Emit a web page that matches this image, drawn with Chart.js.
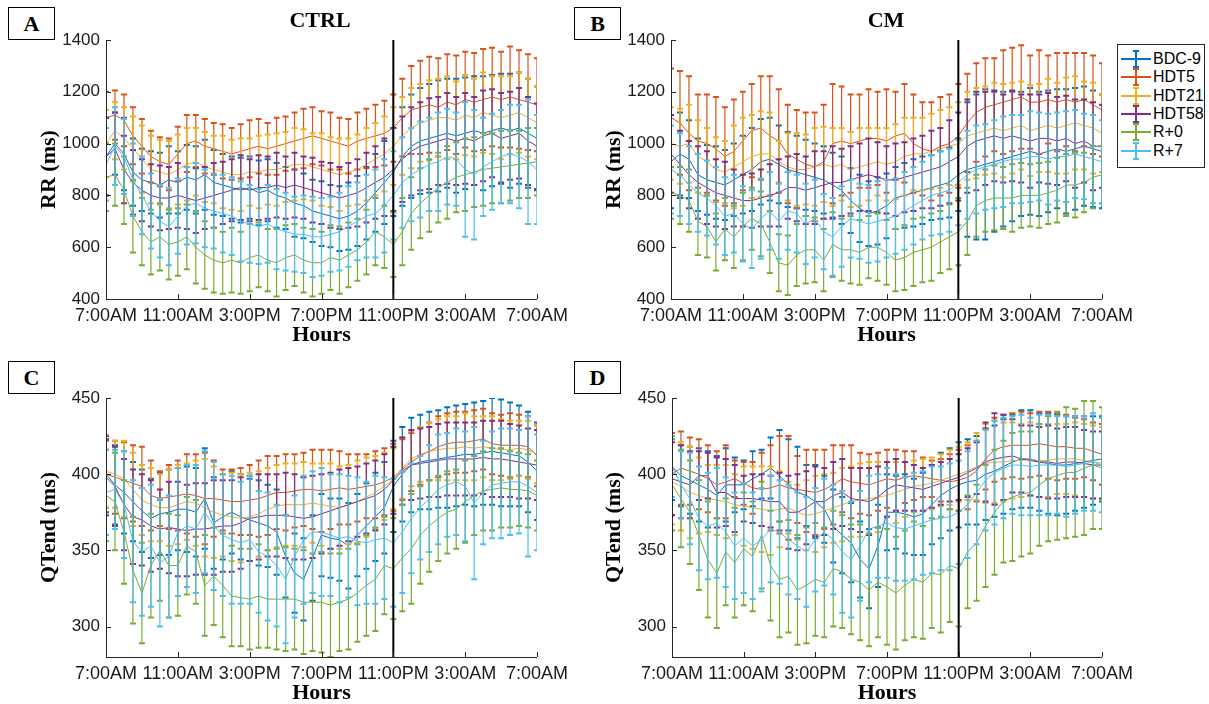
<!DOCTYPE html>
<html>
<head>
<meta charset="utf-8">
<script src="https://cdn.jsdelivr.net/npm/chart.js@4.4.1/dist/chart.umd.min.js"></script>
<style>
  body { margin: 0; width: 1209px; height: 704px; position: relative; overflow: hidden; background: #fff; font-family: "Liberation Sans", Arial, sans-serif; }
  canvas { position: absolute; }
  .tag { position: absolute; width: 45px; height: 31px; border: 1.5px solid #000; background: #fff; z-index: 2;
         font: bold 22px "Liberation Serif", serif; display: flex; align-items: center; justify-content: center; }
  .ttl { position: absolute; transform: translate(-50%, -50%); font: bold 22px "Liberation Serif", serif; z-index: 2; }
  #legend { position: absolute; left: 1117px; top: 44px; width: 86px; height: 122px; border: 1px solid #262626; background: #fff; z-index: 3; }
  .item { position: absolute; left: 0; height: 18px; width: 86px; }
  .item .h { position: absolute; left: 3px; top: 8px; width: 30px; height: 2px; }
  .item .v { position: absolute; left: 17px; top: 1px; width: 2px; height: 16px; }
  .item .c1, .item .c2 { position: absolute; left: 15px; width: 6px; height: 2px; }
  .item .c1 { top: 0; } .item .c2 { top: 16px; }
  .item span { position: absolute; left: 35px; top: 0; font-size: 16px; line-height: 18px; color: #000; }
</style>
</head>
<body>
<div class="tag" style="left:8px;top:7px">A</div>
<div class="tag" style="left:574px;top:7px">B</div>
<div class="tag" style="left:8px;top:361px">C</div>
<div class="tag" style="left:574px;top:361px">D</div>
<div class="ttl" style="left:320px;top:20px">CTRL</div>
<div class="ttl" style="left:886px;top:20px">CM</div>
<canvas id="cA" width="580" height="350" style="left:0;top:0"></canvas>
<canvas id="cB" width="580" height="350" style="left:565px;top:0"></canvas>
<canvas id="cC" width="580" height="350" style="left:0;top:358px"></canvas>
<canvas id="cD" width="580" height="350" style="left:565px;top:358px"></canvas>
<div id="legend"></div>
<script>
// time axis: hours after 7:00AM, one point every 30 min
const hours = [0,0.5,1,1.5,2,2.5,3,3.5,4,4.5,5,5.5,6,6.5,7,7.5,8,8.5,9,9.5,10,10.5,11,11.5,12,
               12.5,13,13.5,14,14.5,15,15.5,16,16.5,17,17.5,18,18.5,19,19.5,20,20.5,21,21.5,22,22.5,23,23.5,24];
const xTickHours = [0, 4, 8, 12, 16, 20, 24];
const xTickLabels = ['7:00AM', '11:00AM', '3:00PM', '7:00PM', '11:00PM', '3:00AM', '7:00AM'];
const lightsOffHour = 16;
const rrTicks = [400, 600, 800, 1000, 1200, 1400];
const qtTicks = [300, 350, 400, 450];

const seriesNames = ['BDC-9', 'HDT5', 'HDT21', 'HDT58', 'R+0', 'R+7'];
const seriesColors = ['#0072BD', '#D95319', '#EDB120', '#7E2F8E', '#77AC30', '#4DBEEE'];

// A: CTRL, RR (ms)
const A_BDC9 = [950,1000,960,890,860,850,840,860,850,870,860,880,850,840,830,820,830,810,820,800,790,770,760,740,730,720,710,720,740,770,810,850,890,950,990,1010,1020,1030,1040,1030,1040,1050,1040,1050,1060,1050,1060,1040,1020];
const A_BDC9e = [150,120,140,130,120,120,125,130,120,125,130,135,125,120,120,125,120,125,120,125,120,130,125,120,125,120,125,130,135,140,150,160,170,190,200,205,210,215,210,220,215,210,220,215,210,220,215,210,200];
const A_HDT5 = [1100,1110,1090,1030,990,950,930,920,960,1000,1010,990,980,970,960,970,980,990,980,990,1000,1010,1020,1030,1020,1010,1000,990,1010,1020,1030,1040,1060,1100,1130,1140,1150,1140,1160,1150,1170,1160,1170,1180,1170,1180,1170,1160,1150];
const A_HDT5e = [100,95,100,110,105,100,95,100,105,110,100,105,100,105,100,105,110,105,100,110,105,110,115,110,105,110,100,105,110,115,120,125,130,150,170,180,185,190,185,190,185,190,195,190,185,195,190,185,180];
const A_HDT21 = [1000,1050,1020,980,940,900,890,880,900,920,930,910,900,890,880,880,890,890,900,900,910,920,920,910,900,890,880,890,900,920,940,960,990,1030,1060,1080,1090,1100,1100,1090,1110,1100,1120,1110,1100,1110,1120,1100,1080];
const A_HDT21e = [130,110,120,125,130,130,125,130,135,140,130,135,130,140,135,140,130,140,135,140,135,140,135,130,140,135,140,130,135,140,140,145,150,150,155,150,155,150,160,150,155,150,155,150,160,150,155,150,140];
const A_HDT58 = [950,980,900,850,820,800,790,790,800,790,780,790,800,810,820,830,820,830,830,840,830,840,830,820,810,800,790,800,810,830,850,870,900,940,970,990,1000,1010,1020,1010,1020,1010,1030,1040,1020,1030,1040,1010,990];
const A_HDT58e = [150,140,130,125,120,120,125,120,125,120,125,120,125,120,120,125,120,125,120,125,120,125,120,125,120,125,120,125,130,135,140,150,160,165,170,170,175,170,175,170,175,170,175,170,175,170,175,170,165];
const A_R0 = [870,880,820,720,660,620,640,610,620,640,600,570,550,540,550,540,560,570,550,540,560,570,550,540,540,560,550,570,590,620,660,640,610,660,730,770,800,830,850,870,880,890,900,905,910,915,920,925,930];
const A_R0e = [130,120,130,140,130,125,130,135,130,125,140,130,125,120,125,120,130,125,120,130,125,120,125,130,120,125,130,125,120,125,130,120,125,130,140,135,140,135,140,135,140,135,140,135,140,135,130,135,130];
const A_R7 = [920,990,950,860,800,740,700,680,720,760,770,750,740,730,720,700,690,680,690,670,660,650,650,640,640,650,660,680,700,720,730,760,800,850,880,900,920,930,950,940,900,880,910,930,950,960,950,930,900];
const A_R7e = [140,150,145,140,150,145,140,150,145,150,155,150,145,150,150,155,150,145,150,155,150,145,150,155,150,145,150,155,150,160,170,180,170,175,180,185,180,190,185,180,260,250,190,185,180,190,200,240,210];

// B: CM, RR (ms)
const B_BDC9 = [930,960,940,880,860,850,840,860,880,900,930,940,920,900,890,880,870,860,840,820,780,750,730,740,760,790,800,810,820,830,840,850,880,900,910,920,930,940,950,960,970,960,970,980,970,980,990,980,970];
const B_BDC9e = [180,160,150,140,135,140,135,140,150,160,165,160,150,145,140,135,130,130,125,130,125,130,125,130,125,120,125,130,130,125,130,135,140,260,280,290,270,260,250,240,245,240,235,230,240,235,230,225,220];
const B_HDT5 = [1100,1080,1040,1010,1000,980,950,970,1010,1050,1060,1030,1010,960,940,920,910,930,1000,1010,1000,1010,1020,1020,1010,1030,1040,1000,980,970,990,1000,1030,1080,1120,1140,1150,1160,1170,1180,1160,1160,1170,1160,1170,1160,1170,1150,1130];
const B_HDT5e = [190,200,220,180,190,200,190,200,190,180,200,230,200,190,190,200,210,220,230,210,190,180,190,180,200,170,190,190,180,190,190,190,200,190,190,190,180,200,200,200,180,200,170,190,180,190,180,190,180];
const B_HDT21 = [1000,990,1000,950,930,900,890,910,930,950,960,960,930,910,900,900,910,920,910,920,900,910,920,930,920,930,950,960,960,970,980,990,1000,1030,1040,1050,1060,1050,1060,1070,1050,1060,1070,1060,1070,1080,1070,1060,1040];
const B_HDT21e = [140,145,150,140,130,125,120,160,170,160,165,160,80,130,140,135,150,145,150,140,145,150,140,130,140,145,150,140,140,145,150,150,160,170,175,170,175,180,175,170,175,170,180,175,185,180,170,175,150];
const B_HDT58 = [960,920,880,850,830,810,800,790,780,780,790,800,810,830,830,820,830,840,850,850,860,870,880,870,860,860,870,880,890,900,910,930,950,990,1010,1020,1030,1020,1030,1020,1010,1020,1020,1010,1020,1000,1010,990,990];
const B_HDT58e = [150,130,130,140,140,130,130,110,100,105,110,120,130,120,130,130,140,130,140,130,130,130,140,135,130,140,135,140,140,150,150,160,170,180,190,180,175,170,175,170,180,170,175,170,165,170,160,170,160];
const B_R0 = [810,800,780,700,680,620,670,640,680,710,690,620,540,530,570,590,590,550,610,590,590,580,600,600,580,550,560,580,590,600,620,640,660,700,760,780,790,790,790,800,800,800,810,820,840,840,850,870,880];
const B_R0e = [100,110,120,130,120,110,120,120,130,120,125,120,110,115,120,130,125,120,125,120,130,125,120,130,125,120,125,130,125,130,120,125,130,130,120,120,125,120,130,125,120,125,120,125,120,125,115,120,110];
const B_R7 = [900,880,840,810,790,760,720,730,690,670,710,740,700,740,730,690,710,660,640,680,710,700,690,700,710,720,740,760,780,800,810,820,850,880,900,910,920,930,940,940,950,950,940,950,950,960,950,940,930];
const B_R7e = [170,160,150,150,145,150,150,150,145,150,155,150,145,150,150,155,150,145,150,155,150,145,150,155,150,145,150,150,150,155,160,160,165,170,170,165,170,175,170,170,175,170,175,170,175,170,165,170,160];

// C: CTRL, QTend (ms)
const C_BDC9 = [400,393,388,382,376,371,374,375,377,377,375,384,368,372,375,372,370,368,366,362,346,335,331,345,360,358,357,353,360,366,372,378,392,400,406,408,409,410,411,412,413,413,414,415,414,413,412,408,402];
const C_BDC9e = [25,26,27,26,27,26,27,28,27,28,29,33,30,28,27,28,27,28,27,28,27,26,27,28,27,26,27,28,27,28,29,30,30,31,31,31,32,32,33,33,33,34,34,35,35,34,33,33,32];
const C_HDT5 = [400,398,396,394,392,386,384,385,386,387,386,384,384,383,382,382,383,384,386,388,388,389,390,390,389,390,391,390,391,392,393,395,398,403,408,412,415,418,420,421,421,422,423,420,419,419,419,418,412];
const C_HDT5e = [22,24,25,25,26,23,18,21,23,26,27,30,25,20,21,22,23,25,26,24,25,24,24,26,27,26,24,23,22,21,22,22,22,20,19,19,19,20,20,20,20,20,20,20,20,21,20,20,20];
const C_HDT21 = [402,400,397,390,383,380,378,378,380,382,381,378,375,373,372,371,372,374,377,379,380,380,380,381,380,379,378,380,382,385,388,392,397,404,410,413,415,416,417,417,418,417,418,417,416,416,417,416,413];
const C_HDT21e = [24,22,25,24,23,24,22,25,26,25,28,32,30,27,29,29,29,28,27,27,27,27,28,26,27,28,27,26,27,26,24,22,20,20,18,18,19,20,21,21,22,21,20,21,20,19,18,19,19];
const C_HDT58 = [398,392,380,372,370,366,364,365,364,363,364,364,365,366,366,368,371,372,373,373,373,372,371,372,374,376,378,380,382,384,386,390,396,402,406,407,408,409,410,410,410,410,411,410,410,409,408,407,406];
const C_HDT58e = [25,26,30,31,30,30,26,30,31,30,30,30,31,30,30,30,28,28,27,27,28,28,27,27,26,25,25,24,23,23,23,23,22,22,23,23,23,24,24,24,24,24,24,25,25,24,24,23,23];
const C_R0 = [386,382,362,337,322,340,350,340,340,353,349,327,333,327,320,319,318,320,318,318,318,318,316,316,316,314,316,318,322,327,331,340,338,345,351,360,366,371,375,377,382,386,389,390,391,390,390,389,386];
const C_R0e = [30,32,34,35,33,34,33,34,33,32,34,33,32,34,33,32,33,34,32,33,34,33,34,32,33,34,32,33,32,33,34,32,33,35,36,32,30,28,27,26,27,26,26,27,26,25,24,24,23];
const C_R7 = [388,390,380,356,349,353,342,346,362,366,364,375,366,360,357,355,357,349,346,340,331,346,357,362,362,360,358,359,356,355,357,358,355,362,371,378,384,390,393,395,392,381,388,393,394,395,395,392,388];
const C_R7e = [28,26,35,40,42,40,42,40,42,40,42,40,42,40,42,40,42,40,42,40,42,40,42,40,42,40,42,40,42,40,42,40,42,40,36,34,35,36,34,35,36,50,34,35,36,35,34,46,38];

// D: CM, QTend (ms)
const D_BDC9 = [405,399,396,393,390,386,393,393,393,397,400,404,399,393,388,386,382,377,366,360,355,344,338,353,375,375,374,372,374,380,386,390,393,395,396,400,402,405,408,410,410,408,407,406,406,407,408,409,410];
const D_BDC9e = [22,20,22,24,25,26,24,18,16,18,16,20,30,30,30,20,24,22,24,25,26,25,26,27,25,24,26,25,27,26,28,27,28,28,29,30,30,31,31,32,32,32,33,33,32,31,30,29,28];
const D_HDT5 = [400,404,402,400,397,393,395,397,394,391,390,391,393,391,390,389,388,390,393,397,395,394,393,395,397,396,398,399,398,397,396,395,396,398,402,410,416,418,419,419,419,420,419,418,418,417,417,415,413];
const D_HDT5e = [27,24,22,23,22,22,24,12,14,17,24,28,32,34,22,27,28,26,26,22,24,20,20,19,19,20,17,16,13,12,14,18,20,21,20,20,21,21,21,22,21,21,22,22,21,20,19,19,20];
const D_HDT21 = [395,392,388,386,384,383,382,380,379,378,377,376,377,378,375,373,374,376,378,380,382,383,384,385,386,388,390,392,393,394,396,398,400,402,405,407,408,408,409,409,410,409,409,410,410,410,409,408,407];
const D_HDT21e = [28,29,30,25,22,23,24,20,26,27,28,29,25,17,18,23,25,24,23,24,23,24,24,23,22,20,18,17,17,17,17,18,18,19,22,26,27,26,25,24,24,24,24,23,23,24,24,24,24];
const D_HDT58 = [397,395,393,399,399,388,388,384,384,384,383,382,382,375,375,378,382,382,386,388,384,383,382,385,390,393,392,391,390,392,394,396,398,401,404,408,410,411,412,410,409,408,408,407,408,408,407,406,406];
const D_HDT58e = [24,24,22,16,15,23,22,22,15,16,17,17,19,24,25,24,23,22,22,22,20,21,22,20,18,17,16,15,14,14,14,14,15,16,17,26,30,28,24,22,23,23,24,23,23,23,22,22,22];
const D_R0 = [393,384,375,360,344,335,349,342,351,346,360,340,331,333,324,327,331,329,338,336,331,329,324,329,326,322,327,331,329,335,334,340,338,349,355,366,375,382,385,387,388,393,397,399,401,401,404,406,404];
const D_R0e = [30,32,34,36,38,36,35,36,37,36,35,36,38,37,36,38,37,36,38,37,36,38,37,36,38,37,36,38,37,36,38,37,38,37,38,40,41,40,42,41,40,40,41,42,43,42,44,42,40];
const D_R7 = [405,393,384,371,366,368,362,353,358,353,357,364,362,357,353,349,357,362,357,349,344,353,364,366,368,365,364,366,368,370,371,372,375,380,388,396,401,404,406,406,405,406,406,406,405,406,407,408,406];
const D_R7e = [20,22,30,34,35,36,36,35,36,35,34,35,34,36,35,36,34,35,36,40,38,36,35,34,36,35,34,35,34,35,34,35,34,35,34,33,34,33,32,33,32,33,33,32,33,32,31,32,31];

// error bars drawn right after each mean line, through the chart's own scales
const errorBars = {
    id: 'errorBars',
    afterDatasetDraw(chart, args) {
        const ds = chart.data.datasets[args.index];
        const { ctx, chartArea: a, scales: { x, y } } = chart;
        ctx.save();
        ctx.beginPath();
        ctx.rect(a.left, a.top, a.right - a.left, a.bottom - a.top);
        ctx.clip();
        ctx.strokeStyle = ds.borderColor;
        ds.data.forEach((p, i) => {
            const px = x.getPixelForValue(p.x);
            const top = y.getPixelForValue(p.y + ds.errs[i]);
            const bot = y.getPixelForValue(p.y - ds.errs[i]);
            ctx.lineWidth = 1.2;
            ctx.beginPath();
            ctx.moveTo(px, top);
            ctx.lineTo(px, bot);
            ctx.stroke();
            ctx.lineWidth = 2;
            ctx.beginPath();
            ctx.moveTo(px - 3, top); ctx.lineTo(px + 3, top);
            ctx.moveTo(px - 3, bot); ctx.lineTo(px + 3, bot);
            ctx.stroke();
        });
        ctx.restore();
    }
};

// MATLAB-like frame: left/bottom axes, inward ticks, 11PM marker line
const frame = {
    id: 'frame',
    afterDraw(chart) {
        const { ctx, chartArea: a, scales: { x, y } } = chart;
        const seg = (x1, y1, x2, y2) => { ctx.beginPath(); ctx.moveTo(x1, y1); ctx.lineTo(x2, y2); ctx.stroke(); };
        ctx.save();
        ctx.strokeStyle = '#000';
        ctx.lineWidth = 2;
        const mx = x.getPixelForValue(lightsOffHour);
        seg(mx, a.top, mx, a.bottom);
        ctx.strokeStyle = '#262626';
        ctx.lineWidth = 1;
        seg(a.left + 0.5, a.top, a.left + 0.5, a.bottom + 0.5);
        seg(a.left, a.bottom + 0.5, a.right, a.bottom + 0.5);
        y.ticks.forEach(t => {
            const py = Math.round(y.getPixelForValue(t.value)) + 0.5;
            seg(a.left, py, a.left + 5, py);
        });
        x.ticks.forEach(t => {
            const px = Math.round(x.getPixelForValue(t.value)) + 0.5;
            seg(px, a.bottom, px, a.bottom - 5);
        });
        ctx.restore();
    }
};

Chart.defaults.font.family = "'Liberation Sans', Arial, sans-serif";
Chart.defaults.color = '#262626';

function makePanel(id, means, errs, yMin, yMax, yTicks, yTitle, yAxisWidth) {
    const datasets = means.map((m, k) => ({
        label: seriesNames[k],
        data: hours.map((h, i) => ({ x: h, y: m[i] })),
        errs: errs[k],
        borderColor: seriesColors[k],
        borderWidth: 1,
        pointRadius: 0,
        tension: 0,
        order: means.length - 1 - k
    }));
    new Chart(document.getElementById(id), {
        type: 'line',
        data: { datasets },
        plugins: [errorBars, frame],
        options: {
            responsive: false,
            animation: false,
            devicePixelRatio: 1,
            layout: { padding: { left: 0, top: 40, right: 43, bottom: 0 } },
            plugins: { legend: { display: false }, tooltip: { enabled: false } },
            scales: {
                x: {
                    type: 'linear', min: 0, max: 24,
                    grid: { display: false, drawTicks: false },
                    border: { display: false },
                    afterBuildTicks: s => { s.ticks = xTickHours.map(v => ({ value: v })); },
                    afterFit: s => { s.height = 51; },
                    ticks: {
                        autoSkip: false, maxRotation: 0, minRotation: 0, padding: 6,
                        font: { size: 18 }, color: '#1a1a1a',
                        callback: (v, i) => xTickLabels[i]
                    },
                    title: {
                        display: true, text: 'Hours', color: '#000',
                        font: { family: "'Liberation Serif', serif", size: 22, weight: 'bold' },
                        padding: { top: 0, bottom: 1 }
                    }
                },
                y: {
                    min: yMin, max: yMax,
                    grid: { display: false, drawTicks: false },
                    border: { display: false },
                    afterBuildTicks: s => { s.ticks = yTicks.map(v => ({ value: v })); },
                    afterFit: s => { s.width = yAxisWidth; },
                    ticks: { padding: 6, font: { size: 17 }, color: '#1a1a1a', callback: v => String(v) },
                    title: {
                        display: true, text: yTitle, color: '#000',
                        font: { family: "'Liberation Serif', serif", size: 22, weight: 'bold' },
                        padding: { top: 36, bottom: 0 }
                    }
                }
            }
        }
    });
}

makePanel('cA', [A_BDC9, A_HDT5, A_HDT21, A_HDT58, A_R0, A_R7],
    [A_BDC9e, A_HDT5e, A_HDT21e, A_HDT58e, A_R0e, A_R7e], 400, 1400, rrTicks, 'RR (ms)', 106);
makePanel('cB', [B_BDC9, B_HDT5, B_HDT21, B_HDT58, B_R0, B_R7],
    [B_BDC9e, B_HDT5e, B_HDT21e, B_HDT58e, B_R0e, B_R7e], 400, 1400, rrTicks, 'RR (ms)', 106);
makePanel('cC', [C_BDC9, C_HDT5, C_HDT21, C_HDT58, C_R0, C_R7],
    [C_BDC9e, C_HDT5e, C_HDT21e, C_HDT58e, C_R0e, C_R7e], 280, 450, qtTicks, 'QTend (ms)', 106);
makePanel('cD', [D_BDC9, D_HDT5, D_HDT21, D_HDT58, D_R0, D_R7],
    [D_BDC9e, D_HDT5e, D_HDT21e, D_HDT58e, D_R0e, D_R7e], 280, 450, qtTicks, 'QTend (ms)', 107);

// legend with error-bar glyphs
const legend = document.getElementById('legend');
seriesNames.forEach((name, k) => {
    const c = seriesColors[k];
    const item = document.createElement('div');
    item.className = 'item';
    item.style.top = (5 + k * 18.3) + 'px';
    item.innerHTML = `<div class="h" style="background:${c}"></div><div class="v" style="background:${c}"></div>` +
        `<div class="c1" style="background:${c}"></div><div class="c2" style="background:${c}"></div><span>${name}</span>`;
    legend.appendChild(item);
});
</script>
</body>
</html>
